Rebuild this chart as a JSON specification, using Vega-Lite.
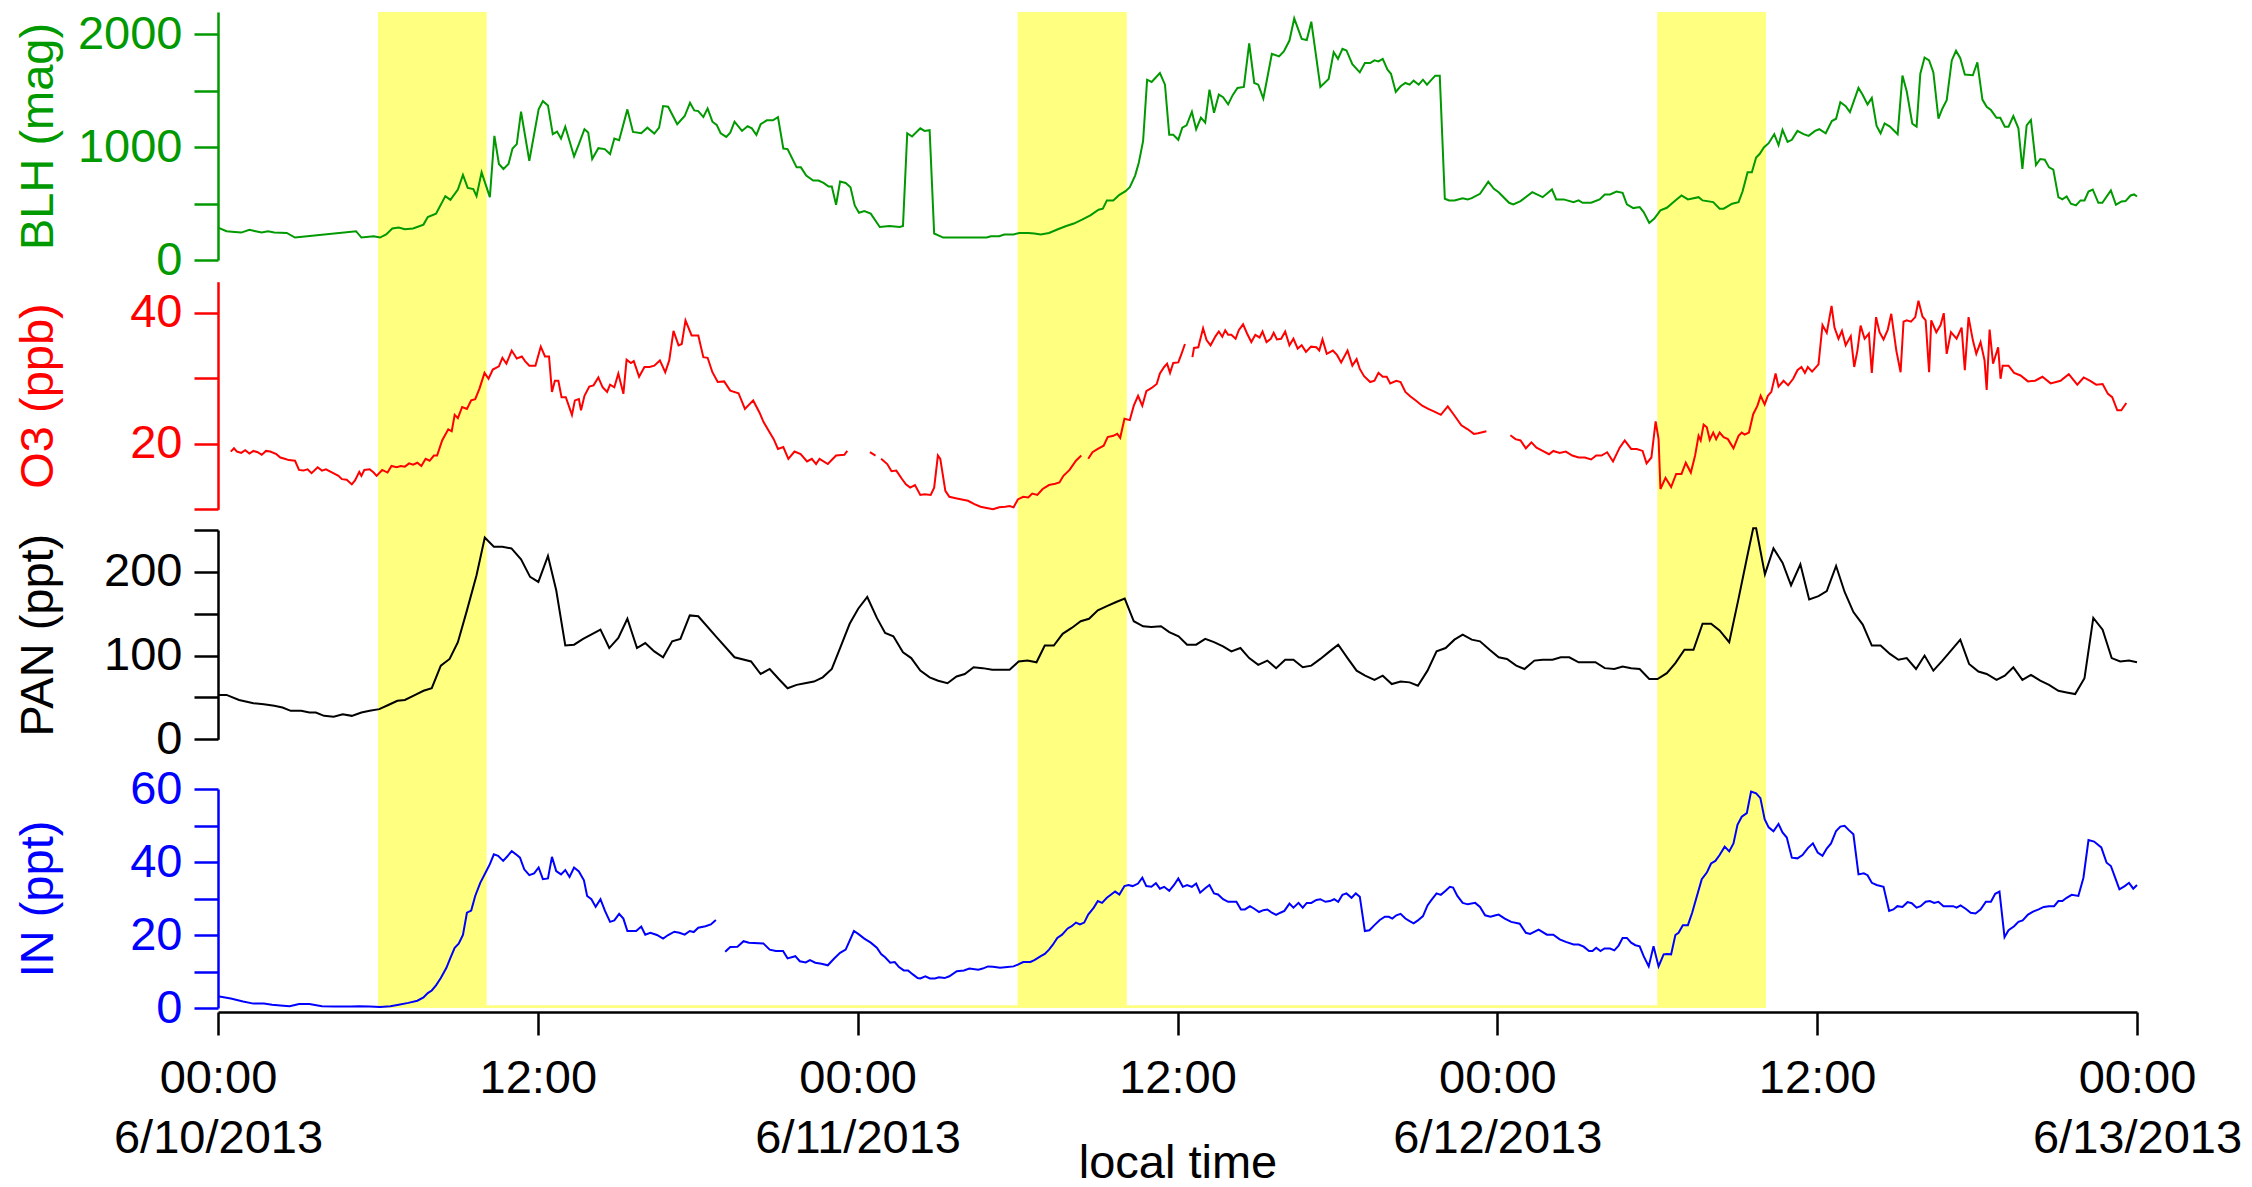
{
"$schema": "https://vega.github.io/schema/vega-lite/v6.json",
"width": 1919, "height": 996,
"autosize": {"type": "none"},
"padding": {"left": 218, "top": 12, "right": 115, "bottom": 179},
"config": {"view": {"stroke": null}, "font": "Liberation Sans",
  "axis": {"labelFont": "Liberation Sans", "titleFont": "Liberation Sans", "labelFontSize": 47, "titleFontSize": 47, "titleFontWeight": "normal", "grid": false, "tickWidth": 2.5, "domainWidth": 2.5, "labelOverlap": false, "labelFlush": false, "labelLimit": 0}},
"datasets": {
"bands": [{"h":6,"h2":10.08},{"h":30,"h2":34.1},{"h":54,"h2":58.08}],
"strip": [{"h":6,"h2":58.08}],
"blh": [{"h":0,"v":287},{"h":0.32,"v":255},{"h":0.63,"v":249},{"h":0.87,"v":243},{"h":1.18,"v":267},{"h":1.41,"v":255},{"h":1.64,"v":243},{"h":1.88,"v":255},{"h":2.11,"v":243},{"h":2.58,"v":240},{"h":2.89,"v":199},{"h":5.18,"v":255},{"h":5.38,"v":199},{"h":5.84,"v":211},{"h":6.08,"v":199},{"h":6.31,"v":226},{"h":6.54,"v":279},{"h":6.78,"v":287},{"h":7.01,"v":273},{"h":7.32,"v":279},{"h":7.71,"v":314},{"h":7.87,"v":381},{"h":8.18,"v":411},{"h":8.53,"v":566},{"h":8.72,"v":534},{"h":9.0,"v":625},{"h":9.19,"v":754},{"h":9.37,"v":639},{"h":9.58,"v":628},{"h":9.7,"v":566},{"h":9.89,"v":777},{"h":10.2,"v":557},{"h":10.37,"v":1100},{"h":10.54,"v":851},{"h":10.71,"v":807},{"h":10.9,"v":851},{"h":11.05,"v":988},{"h":11.21,"v":1027},{"h":11.37,"v":1314},{"h":11.68,"v":880},{"h":12.03,"v":1335},{"h":12.19,"v":1408},{"h":12.38,"v":1370},{"h":12.56,"v":1115},{"h":12.72,"v":1138},{"h":12.87,"v":1076},{"h":13.03,"v":1182},{"h":13.36,"v":918},{"h":13.54,"v":1027},{"h":13.75,"v":1159},{"h":13.89,"v":1129},{"h":14.04,"v":895},{"h":14.27,"v":991},{"h":14.51,"v":983},{"h":14.71,"v":939},{"h":14.87,"v":1076},{"h":15.05,"v":1062},{"h":15.36,"v":1335},{"h":15.57,"v":1135},{"h":15.88,"v":1123},{"h":16.11,"v":1173},{"h":16.37,"v":1120},{"h":16.55,"v":1173},{"h":16.7,"v":1364},{"h":16.89,"v":1358},{"h":17.23,"v":1203},{"h":17.51,"v":1276},{"h":17.71,"v":1393},{"h":17.87,"v":1326},{"h":18.02,"v":1320},{"h":18.21,"v":1267},{"h":18.37,"v":1343},{"h":18.55,"v":1226},{"h":18.71,"v":1197},{"h":18.86,"v":1123},{"h":19.07,"v":1091},{"h":19.22,"v":1129},{"h":19.38,"v":1226},{"h":19.66,"v":1144},{"h":19.87,"v":1185},{"h":20.03,"v":1167},{"h":20.2,"v":1109},{"h":20.36,"v":1203},{"h":20.59,"v":1238},{"h":20.82,"v":1238},{"h":21.01,"v":1267},{"h":21.21,"v":988},{"h":21.37,"v":983},{"h":21.71,"v":821},{"h":21.87,"v":821},{"h":22.07,"v":748},{"h":22.33,"v":704},{"h":22.53,"v":704},{"h":22.72,"v":683},{"h":22.91,"v":651},{"h":23.03,"v":651},{"h":23.19,"v":490},{"h":23.34,"v":695},{"h":23.55,"v":683},{"h":23.73,"v":645},{"h":23.89,"v":484},{"h":24.05,"v":419},{"h":24.25,"v":434},{"h":24.49,"v":411},{"h":24.83,"v":293},{"h":25.19,"v":302},{"h":25.58,"v":293},{"h":25.7,"v":302},{"h":25.86,"v":1123},{"h":26.04,"v":1094},{"h":26.35,"v":1167},{"h":26.51,"v":1144},{"h":26.7,"v":1150},{"h":26.87,"v":235},{"h":27.21,"v":199},{"h":28.84,"v":199},{"h":29.0,"v":211},{"h":29.31,"v":211},{"h":29.5,"v":226},{"h":29.85,"v":226},{"h":30.06,"v":240},{"h":30.4,"v":240},{"h":30.63,"v":235},{"h":30.87,"v":226},{"h":31.18,"v":240},{"h":31.49,"v":270},{"h":31.8,"v":299},{"h":32.11,"v":323},{"h":32.42,"v":358},{"h":32.73,"v":396},{"h":33.04,"v":446},{"h":33.2,"v":455},{"h":33.35,"v":528},{"h":33.59,"v":528},{"h":33.82,"v":578},{"h":34.05,"v":610},{"h":34.21,"v":645},{"h":34.41,"v":748},{"h":34.55,"v":865},{"h":34.71,"v":1056},{"h":34.86,"v":1598},{"h":35.03,"v":1578},{"h":35.34,"v":1657},{"h":35.53,"v":1554},{"h":35.69,"v":1109},{"h":35.84,"v":1109},{"h":36.03,"v":1065},{"h":36.18,"v":1173},{"h":36.34,"v":1194},{"h":36.54,"v":1314},{"h":36.7,"v":1159},{"h":36.88,"v":1261},{"h":37.04,"v":1217},{"h":37.2,"v":1510},{"h":37.37,"v":1305},{"h":37.55,"v":1467},{"h":37.71,"v":1443},{"h":37.9,"v":1379},{"h":38.07,"v":1461},{"h":38.25,"v":1525},{"h":38.49,"v":1534},{"h":38.69,"v":1921},{"h":38.88,"v":1569},{"h":39.03,"v":1554},{"h":39.22,"v":1431},{"h":39.34,"v":1578},{"h":39.54,"v":1827},{"h":39.81,"v":1804},{"h":39.99,"v":1848},{"h":40.2,"v":1945},{"h":40.38,"v":2141},{"h":40.66,"v":1959},{"h":40.85,"v":1950},{"h":41.02,"v":2112},{"h":41.36,"v":1534},{"h":41.67,"v":1604},{"h":41.86,"v":1842},{"h":42.02,"v":1783},{"h":42.19,"v":1871},{"h":42.34,"v":1857},{"h":42.56,"v":1736},{"h":42.84,"v":1663},{"h":43.03,"v":1745},{"h":43.23,"v":1745},{"h":43.39,"v":1769},{"h":43.54,"v":1760},{"h":43.7,"v":1783},{"h":43.88,"v":1686},{"h":44.01,"v":1651},{"h":44.19,"v":1490},{"h":44.37,"v":1540},{"h":44.55,"v":1569},{"h":44.71,"v":1554},{"h":44.86,"v":1590},{"h":45.05,"v":1554},{"h":45.21,"v":1598},{"h":45.36,"v":1554},{"h":45.67,"v":1634},{"h":45.84,"v":1634},{"h":46.03,"v":543},{"h":46.19,"v":528},{"h":46.39,"v":528},{"h":46.7,"v":548},{"h":46.89,"v":537},{"h":47.04,"v":548},{"h":47.35,"v":587},{"h":47.66,"v":695},{"h":47.87,"v":631},{"h":48.05,"v":600},{"h":48.44,"v":507},{"h":48.6,"v":493},{"h":48.87,"v":522},{"h":49.31,"v":601},{"h":49.7,"v":557},{"h":50.05,"v":625},{"h":50.21,"v":537},{"h":50.49,"v":537},{"h":50.86,"v":513},{"h":51.05,"v":528},{"h":51.2,"v":507},{"h":51.52,"v":507},{"h":51.84,"v":537},{"h":52.03,"v":581},{"h":52.23,"v":581},{"h":52.47,"v":607},{"h":52.7,"v":595},{"h":52.86,"v":493},{"h":53.1,"v":460},{"h":53.34,"v":469},{"h":53.49,"v":425},{"h":53.7,"v":328},{"h":53.89,"v":367},{"h":54.12,"v":440},{"h":54.36,"v":463},{"h":54.68,"v":528},{"h":54.91,"v":572},{"h":55.15,"v":537},{"h":55.55,"v":557},{"h":55.7,"v":528},{"h":56.1,"v":513},{"h":56.34,"v":455},{"h":56.49,"v":455},{"h":56.81,"v":499},{"h":57.05,"v":513},{"h":57.2,"v":607},{"h":57.39,"v":777},{"h":57.55,"v":777},{"h":57.71,"v":909},{"h":57.84,"v":939},{"h":58.0,"v":997},{"h":58.18,"v":1035},{"h":58.39,"v":1115},{"h":58.55,"v":1018},{"h":58.7,"v":1153},{"h":58.89,"v":1047},{"h":59.05,"v":1065},{"h":59.26,"v":1144},{"h":59.49,"v":1115},{"h":59.68,"v":1100},{"h":59.92,"v":1144},{"h":60.08,"v":1159},{"h":60.32,"v":1123},{"h":60.55,"v":1232},{"h":60.71,"v":1252},{"h":60.87,"v":1399},{"h":61.07,"v":1364},{"h":61.23,"v":1311},{"h":61.55,"v":1525},{"h":61.7,"v":1467},{"h":61.89,"v":1379},{"h":62.05,"v":1437},{"h":62.23,"v":1188},{"h":62.38,"v":1123},{"h":62.53,"v":1211},{"h":62.73,"v":1182},{"h":63.02,"v":1115},{"h":63.2,"v":1634},{"h":63.36,"v":1496},{"h":63.57,"v":1208},{"h":63.73,"v":1182},{"h":63.87,"v":1651},{"h":64.03,"v":1795},{"h":64.2,"v":1769},{"h":64.36,"v":1663},{"h":64.55,"v":1252},{"h":64.7,"v":1343},{"h":64.86,"v":1417},{"h":65.05,"v":1769},{"h":65.21,"v":1854},{"h":65.37,"v":1789},{"h":65.54,"v":1643},{"h":65.84,"v":1637},{"h":66.01,"v":1751},{"h":66.2,"v":1422},{"h":66.36,"v":1358},{"h":66.52,"v":1329},{"h":66.73,"v":1261},{"h":66.87,"v":1261},{"h":67.04,"v":1182},{"h":67.18,"v":1182},{"h":67.36,"v":1276},{"h":67.55,"v":1167},{"h":67.7,"v":807},{"h":67.86,"v":1194},{"h":68.02,"v":1241},{"h":68.21,"v":842},{"h":68.37,"v":895},{"h":68.54,"v":889},{"h":68.7,"v":821},{"h":68.86,"v":801},{"h":69.05,"v":557},{"h":69.2,"v":537},{"h":69.36,"v":563},{"h":69.52,"v":499},{"h":69.71,"v":484},{"h":69.88,"v":528},{"h":70.03,"v":528},{"h":70.18,"v":607},{"h":70.34,"v":625},{"h":70.55,"v":507},{"h":70.7,"v":507},{"h":71.02,"v":616},{"h":71.21,"v":490},{"h":71.42,"v":519},{"h":71.57,"v":522},{"h":71.76,"v":572},{"h":71.89,"v":581},{"h":72.0,"v":563}],
"o3": [{"s":1,"h":0.48,"v":18.8},{"s":1,"h":0.6,"v":19.3},{"s":1,"h":0.71,"v":18.8},{"s":1,"h":0.87,"v":18.6},{"s":1,"h":1.02,"v":19.0},{"s":1,"h":1.18,"v":18.5},{"s":1,"h":1.33,"v":18.9},{"s":1,"h":1.49,"v":18.7},{"s":1,"h":1.64,"v":18.3},{"s":1,"h":1.8,"v":18.9},{"s":1,"h":1.96,"v":18.8},{"s":1,"h":2.19,"v":18.4},{"s":1,"h":2.34,"v":17.9},{"s":1,"h":2.5,"v":17.7},{"s":1,"h":2.66,"v":17.5},{"s":1,"h":2.89,"v":17.4},{"s":1,"h":3.04,"v":16.0},{"s":1,"h":3.2,"v":15.9},{"s":1,"h":3.36,"v":16.1},{"s":1,"h":3.51,"v":15.5},{"s":1,"h":3.74,"v":16.4},{"s":1,"h":3.9,"v":15.9},{"s":1,"h":4.05,"v":16.1},{"s":1,"h":4.29,"v":15.6},{"s":1,"h":4.52,"v":15.1},{"s":1,"h":4.65,"v":14.6},{"s":1,"h":4.83,"v":14.5},{"s":1,"h":5.02,"v":13.8},{"s":1,"h":5.14,"v":14.4},{"s":1,"h":5.3,"v":15.7},{"s":1,"h":5.38,"v":15.1},{"s":1,"h":5.49,"v":16.0},{"s":1,"h":5.69,"v":16.1},{"s":1,"h":5.84,"v":15.6},{"s":1,"h":5.95,"v":15.1},{"s":1,"h":6.16,"v":16.0},{"s":1,"h":6.36,"v":15.6},{"s":1,"h":6.51,"v":16.6},{"s":1,"h":6.7,"v":16.4},{"s":1,"h":6.86,"v":16.6},{"s":1,"h":7.01,"v":16.5},{"s":1,"h":7.17,"v":17.0},{"s":1,"h":7.32,"v":16.8},{"s":1,"h":7.48,"v":17.1},{"s":1,"h":7.63,"v":16.6},{"s":1,"h":7.79,"v":17.7},{"s":1,"h":7.94,"v":17.4},{"s":1,"h":8.1,"v":18.2},{"s":1,"h":8.22,"v":18.2},{"s":1,"h":8.41,"v":20.5},{"s":1,"h":8.64,"v":22.2},{"s":1,"h":8.77,"v":21.9},{"s":1,"h":8.88,"v":24.4},{"s":1,"h":9.0,"v":23.9},{"s":1,"h":9.16,"v":25.6},{"s":1,"h":9.34,"v":25.3},{"s":1,"h":9.5,"v":26.6},{"s":1,"h":9.65,"v":26.8},{"s":1,"h":9.81,"v":28.4},{"s":1,"h":10.0,"v":30.8},{"s":1,"h":10.15,"v":29.9},{"s":1,"h":10.31,"v":31.3},{"s":1,"h":10.54,"v":31.8},{"s":1,"h":10.67,"v":33.1},{"s":1,"h":10.82,"v":32.2},{"s":1,"h":11.02,"v":34.2},{"s":1,"h":11.21,"v":33.0},{"s":1,"h":11.4,"v":33.3},{"s":1,"h":11.52,"v":32.6},{"s":1,"h":11.68,"v":31.9},{"s":1,"h":11.91,"v":31.9},{"s":1,"h":12.11,"v":34.8},{"s":1,"h":12.27,"v":33.3},{"s":1,"h":12.42,"v":33.3},{"s":1,"h":12.53,"v":27.9},{"s":1,"h":12.64,"v":29.6},{"s":1,"h":12.77,"v":29.6},{"s":1,"h":12.89,"v":27.1},{"s":1,"h":13.05,"v":27.1},{"s":1,"h":13.28,"v":24.4},{"s":1,"h":13.39,"v":26.6},{"s":1,"h":13.54,"v":26.8},{"s":1,"h":13.62,"v":25.1},{"s":1,"h":13.75,"v":27.3},{"s":1,"h":13.93,"v":28.7},{"s":1,"h":14.09,"v":28.9},{"s":1,"h":14.27,"v":30.1},{"s":1,"h":14.43,"v":28.6},{"s":1,"h":14.6,"v":27.9},{"s":1,"h":14.71,"v":29.0},{"s":1,"h":14.87,"v":28.6},{"s":1,"h":15.02,"v":30.7},{"s":1,"h":15.21,"v":27.6},{"s":1,"h":15.33,"v":32.8},{"s":1,"h":15.49,"v":32.3},{"s":1,"h":15.6,"v":32.6},{"s":1,"h":15.8,"v":30.2},{"s":1,"h":16.0,"v":31.7},{"s":1,"h":16.19,"v":31.7},{"s":1,"h":16.37,"v":31.9},{"s":1,"h":16.58,"v":32.7},{"s":1,"h":16.78,"v":30.9},{"s":1,"h":16.93,"v":32.7},{"s":1,"h":17.09,"v":37.2},{"s":1,"h":17.28,"v":35.0},{"s":1,"h":17.4,"v":35.2},{"s":1,"h":17.54,"v":38.8},{"s":1,"h":17.77,"v":36.5},{"s":1,"h":18.02,"v":36.5},{"s":1,"h":18.21,"v":33.2},{"s":1,"h":18.37,"v":33.1},{"s":1,"h":18.55,"v":30.9},{"s":1,"h":18.75,"v":29.4},{"s":1,"h":18.99,"v":29.5},{"s":1,"h":19.22,"v":28.1},{"s":1,"h":19.53,"v":27.7},{"s":1,"h":19.77,"v":25.3},{"s":1,"h":20.08,"v":26.6},{"s":1,"h":20.31,"v":24.8},{"s":1,"h":20.47,"v":23.3},{"s":1,"h":20.7,"v":21.7},{"s":1,"h":20.85,"v":20.7},{"s":1,"h":21.01,"v":19.2},{"s":1,"h":21.21,"v":19.5},{"s":1,"h":21.4,"v":17.7},{"s":1,"h":21.63,"v":18.8},{"s":1,"h":21.86,"v":18.4},{"s":1,"h":22.1,"v":17.3},{"s":1,"h":22.28,"v":17.7},{"s":1,"h":22.44,"v":16.9},{"s":1,"h":22.57,"v":17.7},{"s":1,"h":22.88,"v":16.9},{"s":1,"h":23.19,"v":18.2},{"s":1,"h":23.5,"v":18.3},{"s":1,"h":23.61,"v":18.9},
{"s":2,"h":24.46,"v":18.7},{"s":2,"h":24.67,"v":18.2},
{"s":3,"h":24.88,"v":17.7},{"s":3,"h":25.11,"v":16.9},{"s":3,"h":25.27,"v":15.8},{"s":3,"h":25.45,"v":15.9},{"s":3,"h":25.65,"v":14.7},{"s":3,"h":25.81,"v":13.8},{"s":3,"h":25.97,"v":13.3},{"s":3,"h":26.15,"v":13.7},{"s":3,"h":26.35,"v":12.2},{"s":3,"h":26.51,"v":12.3},{"s":3,"h":26.74,"v":12.2},{"s":3,"h":26.87,"v":13.3},{"s":3,"h":27.01,"v":18.2},{"s":3,"h":27.1,"v":17.7},{"s":3,"h":27.29,"v":12.8},{"s":3,"h":27.44,"v":11.9},{"s":3,"h":27.68,"v":11.7},{"s":3,"h":27.91,"v":11.5},{"s":3,"h":28.14,"v":11.3},{"s":3,"h":28.38,"v":10.8},{"s":3,"h":28.61,"v":10.4},{"s":3,"h":28.84,"v":10.2},{"s":3,"h":29.08,"v":10.0},{"s":3,"h":29.31,"v":10.3},{"s":3,"h":29.54,"v":10.4},{"s":3,"h":29.7,"v":10.5},{"s":3,"h":29.85,"v":10.3},{"s":3,"h":30.01,"v":11.5},{"s":3,"h":30.21,"v":11.9},{"s":3,"h":30.4,"v":11.8},{"s":3,"h":30.55,"v":12.4},{"s":3,"h":30.74,"v":12.2},{"s":3,"h":30.94,"v":13.1},{"s":3,"h":31.18,"v":13.7},{"s":3,"h":31.41,"v":13.9},{"s":3,"h":31.57,"v":14.1},{"s":3,"h":31.72,"v":15.1},{"s":3,"h":31.95,"v":16.0},{"s":3,"h":32.19,"v":17.4},{"s":3,"h":32.39,"v":18.2},
{"s":4,"h":32.65,"v":17.7},{"s":4,"h":32.81,"v":18.7},{"s":4,"h":33.01,"v":19.2},{"s":4,"h":33.23,"v":19.7},{"s":4,"h":33.38,"v":21.0},{"s":4,"h":33.59,"v":21.2},{"s":4,"h":33.74,"v":21.5},{"s":4,"h":33.85,"v":20.9},{"s":4,"h":34.01,"v":23.8},{"s":4,"h":34.21,"v":23.6},{"s":4,"h":34.36,"v":25.8},{"s":4,"h":34.52,"v":27.3},{"s":4,"h":34.68,"v":25.8},{"s":4,"h":34.83,"v":28.0},{"s":4,"h":35.03,"v":28.5},{"s":4,"h":35.22,"v":29.1},{"s":4,"h":35.34,"v":30.7},{"s":4,"h":35.5,"v":31.7},{"s":4,"h":35.61,"v":32.2},{"s":4,"h":35.72,"v":30.8},{"s":4,"h":35.84,"v":32.3},{"s":4,"h":36.03,"v":32.4},{"s":4,"h":36.15,"v":33.7},{"s":4,"h":36.28,"v":35.2},
{"s":5,"h":36.56,"v":33.2},{"s":5,"h":36.62,"v":34.6},{"s":5,"h":36.78,"v":34.7},{"s":5,"h":36.96,"v":37.6},{"s":5,"h":37.09,"v":35.8},{"s":5,"h":37.24,"v":35.0},{"s":5,"h":37.43,"v":36.4},{"s":5,"h":37.55,"v":37.1},{"s":5,"h":37.68,"v":36.3},{"s":5,"h":37.79,"v":37.3},{"s":5,"h":37.9,"v":36.6},{"s":5,"h":38.02,"v":36.6},{"s":5,"h":38.18,"v":36.0},{"s":5,"h":38.3,"v":37.3},{"s":5,"h":38.46,"v":38.2},{"s":5,"h":38.61,"v":36.8},{"s":5,"h":38.77,"v":35.5},{"s":5,"h":38.92,"v":36.6},{"s":5,"h":39.08,"v":36.2},{"s":5,"h":39.19,"v":37.1},{"s":5,"h":39.34,"v":35.5},{"s":5,"h":39.5,"v":36.0},{"s":5,"h":39.61,"v":36.9},{"s":5,"h":39.73,"v":35.9},{"s":5,"h":39.89,"v":36.0},{"s":5,"h":40.04,"v":37.1},{"s":5,"h":40.2,"v":35.0},{"s":5,"h":40.35,"v":36.0},{"s":5,"h":40.51,"v":34.5},{"s":5,"h":40.66,"v":35.0},{"s":5,"h":40.82,"v":34.0},{"s":5,"h":41.01,"v":34.8},{"s":5,"h":41.21,"v":34.7},{"s":5,"h":41.32,"v":34.2},{"s":5,"h":41.44,"v":35.9},{"s":5,"h":41.6,"v":33.7},{"s":5,"h":41.83,"v":34.2},{"s":5,"h":41.99,"v":33.5},{"s":5,"h":42.14,"v":32.4},{"s":5,"h":42.38,"v":34.2},{"s":5,"h":42.56,"v":31.9},{"s":5,"h":42.72,"v":32.9},{"s":5,"h":42.84,"v":31.4},{"s":5,"h":43.0,"v":30.3},{"s":5,"h":43.23,"v":29.4},{"s":5,"h":43.39,"v":29.6},{"s":5,"h":43.54,"v":30.8},{"s":5,"h":43.7,"v":30.2},{"s":5,"h":43.85,"v":30.2},{"s":5,"h":43.98,"v":29.2},{"s":5,"h":44.21,"v":29.6},{"s":5,"h":44.37,"v":29.4},{"s":5,"h":44.55,"v":27.9},{"s":5,"h":44.74,"v":27.2},{"s":5,"h":44.94,"v":26.6},{"s":5,"h":45.18,"v":25.8},{"s":5,"h":45.41,"v":25.3},{"s":5,"h":45.64,"v":24.9},{"s":5,"h":45.88,"v":24.4},{"s":5,"h":46.14,"v":25.7},{"s":5,"h":46.39,"v":24.3},{"s":5,"h":46.65,"v":22.8},{"s":5,"h":46.89,"v":22.2},{"s":5,"h":47.12,"v":21.5},{"s":5,"h":47.28,"v":21.6},{"s":5,"h":47.59,"v":21.9},
{"s":6,"h":48.49,"v":21.3},{"s":6,"h":48.68,"v":20.7},{"s":6,"h":48.87,"v":20.5},{"s":6,"h":49.07,"v":19.3},{"s":6,"h":49.28,"v":20.2},{"s":6,"h":49.47,"v":19.4},{"s":6,"h":49.7,"v":18.9},{"s":6,"h":49.94,"v":18.4},{"s":6,"h":50.1,"v":18.9},{"s":6,"h":50.34,"v":18.6},{"s":6,"h":50.57,"v":18.8},{"s":6,"h":50.81,"v":18.2},{"s":6,"h":51.05,"v":17.9},{"s":6,"h":51.28,"v":17.9},{"s":6,"h":51.52,"v":17.6},{"s":6,"h":51.71,"v":18.2},{"s":6,"h":51.91,"v":18.2},{"s":6,"h":52.12,"v":18.7},{"s":6,"h":52.34,"v":17.3},{"s":6,"h":52.59,"v":19.4},{"s":6,"h":52.78,"v":20.5},{"s":6,"h":53.02,"v":19.2},{"s":6,"h":53.23,"v":19.2},{"s":6,"h":53.45,"v":18.9},{"s":6,"h":53.6,"v":17.0},{"s":6,"h":53.78,"v":17.9},{"s":6,"h":53.94,"v":23.4},{"s":6,"h":54.05,"v":20.7},{"s":6,"h":54.12,"v":13.1},{"s":6,"h":54.31,"v":14.8},{"s":6,"h":54.52,"v":13.4},{"s":6,"h":54.71,"v":15.4},{"s":6,"h":54.91,"v":15.4},{"s":6,"h":55.07,"v":17.1},{"s":6,"h":55.26,"v":15.6},{"s":6,"h":55.42,"v":18.2},{"s":6,"h":55.55,"v":21.2},{"s":6,"h":55.63,"v":20.5},{"s":6,"h":55.74,"v":22.9},{"s":6,"h":55.86,"v":22.5},{"s":6,"h":55.97,"v":20.6},{"s":6,"h":56.1,"v":21.7},{"s":6,"h":56.21,"v":20.7},{"s":6,"h":56.34,"v":21.7},{"s":6,"h":56.49,"v":21.0},{"s":6,"h":56.65,"v":20.7},{"s":6,"h":56.86,"v":19.3},{"s":6,"h":57.05,"v":21.2},{"s":6,"h":57.17,"v":21.7},{"s":6,"h":57.28,"v":21.4},{"s":6,"h":57.44,"v":21.7},{"s":6,"h":57.6,"v":24.5},{"s":6,"h":57.76,"v":25.8},{"s":6,"h":57.88,"v":27.3},{"s":6,"h":58.03,"v":26.0},{"s":6,"h":58.15,"v":27.3},{"s":6,"h":58.28,"v":27.9},{"s":6,"h":58.44,"v":30.7},{"s":6,"h":58.55,"v":28.7},{"s":6,"h":58.74,"v":29.6},{"s":6,"h":58.91,"v":28.9},{"s":6,"h":59.1,"v":29.9},{"s":6,"h":59.26,"v":31.2},{"s":6,"h":59.41,"v":31.7},{"s":6,"h":59.54,"v":30.8},{"s":6,"h":59.65,"v":31.7},{"s":6,"h":59.81,"v":31.0},{"s":6,"h":60.05,"v":32.1},{"s":6,"h":60.2,"v":38.1},{"s":6,"h":60.36,"v":36.9},{"s":6,"h":60.54,"v":41.0},{"s":6,"h":60.65,"v":37.7},{"s":6,"h":60.8,"v":36.0},{"s":6,"h":60.93,"v":37.2},{"s":6,"h":61.07,"v":35.0},{"s":6,"h":61.26,"v":36.4},{"s":6,"h":61.39,"v":31.7},{"s":6,"h":61.51,"v":34.2},{"s":6,"h":61.63,"v":38.0},{"s":6,"h":61.78,"v":36.0},{"s":6,"h":61.94,"v":36.8},{"s":6,"h":62.05,"v":30.8},{"s":6,"h":62.21,"v":39.3},{"s":6,"h":62.34,"v":37.0},{"s":6,"h":62.49,"v":35.9},{"s":6,"h":62.65,"v":37.4},{"s":6,"h":62.78,"v":39.8},{"s":6,"h":62.97,"v":34.2},{"s":6,"h":63.13,"v":30.9},{"s":6,"h":63.24,"v":38.6},{"s":6,"h":63.36,"v":38.8},{"s":6,"h":63.52,"v":38.6},{"s":6,"h":63.68,"v":39.3},{"s":6,"h":63.8,"v":41.8},{"s":6,"h":63.95,"v":39.4},{"s":6,"h":64.07,"v":38.8},{"s":6,"h":64.2,"v":30.9},{"s":6,"h":64.28,"v":38.8},{"s":6,"h":64.47,"v":37.0},{"s":6,"h":64.63,"v":38.1},{"s":6,"h":64.75,"v":39.9},{"s":6,"h":64.86,"v":33.7},{"s":6,"h":65.02,"v":37.0},{"s":6,"h":65.23,"v":36.0},{"s":6,"h":65.42,"v":37.7},{"s":6,"h":65.54,"v":31.2},{"s":6,"h":65.68,"v":39.3},{"s":6,"h":65.84,"v":35.8},{"s":6,"h":65.97,"v":33.7},{"s":6,"h":66.13,"v":35.5},{"s":6,"h":66.28,"v":32.7},{"s":6,"h":66.36,"v":28.2},{"s":6,"h":66.47,"v":37.4},{"s":6,"h":66.6,"v":32.2},{"s":6,"h":66.79,"v":34.7},{"s":6,"h":66.88,"v":29.9},{"s":6,"h":66.96,"v":31.9},{"s":6,"h":67.18,"v":31.9},{"s":6,"h":67.39,"v":30.8},{"s":6,"h":67.63,"v":30.4},{"s":6,"h":67.91,"v":29.5},{"s":6,"h":68.18,"v":29.6},{"s":6,"h":68.45,"v":30.2},{"s":6,"h":68.76,"v":29.2},{"s":6,"h":69.13,"v":29.6},{"s":6,"h":69.44,"v":30.6},{"s":6,"h":69.76,"v":29.0},{"s":6,"h":70.0,"v":30.1},{"s":6,"h":70.23,"v":29.6},{"s":6,"h":70.47,"v":29.0},{"s":6,"h":70.71,"v":29.1},{"s":6,"h":70.91,"v":27.6},{"s":6,"h":71.07,"v":27.1},{"s":6,"h":71.26,"v":25.1},{"s":6,"h":71.41,"v":25.1},{"s":6,"h":71.6,"v":26.2}],
"pan": [{"h":0,"v":53},{"h":0.32,"v":53},{"h":0.79,"v":47},{"h":1.33,"v":43},{"h":1.72,"v":42},{"h":2.11,"v":40},{"h":2.42,"v":38},{"h":2.73,"v":34},{"h":3.12,"v":34},{"h":3.43,"v":32},{"h":3.67,"v":32},{"h":3.98,"v":28},{"h":4.34,"v":27},{"h":4.68,"v":30},{"h":5.02,"v":28},{"h":5.38,"v":32},{"h":5.69,"v":34},{"h":6.05,"v":36},{"h":6.39,"v":41},{"h":6.73,"v":46},{"h":7.01,"v":47},{"h":7.4,"v":53},{"h":7.71,"v":58},{"h":8.02,"v":61},{"h":8.36,"v":88},{"h":8.69,"v":96},{"h":9.0,"v":116},{"h":9.34,"v":154},{"h":9.7,"v":196},{"h":10.01,"v":241},{"h":10.35,"v":230},{"h":10.67,"v":230},{"h":11.01,"v":228},{"h":11.37,"v":215},{"h":11.71,"v":194},{"h":12.02,"v":188},{"h":12.38,"v":219},{"h":12.69,"v":178},{"h":13.03,"v":112},{"h":13.36,"v":113},{"h":13.7,"v":120},{"h":14.35,"v":131},{"h":14.68,"v":109},{"h":15.02,"v":121},{"h":15.36,"v":144},{"h":15.72,"v":109},{"h":16.03,"v":115},{"h":16.37,"v":105},{"h":16.7,"v":98},{"h":17.04,"v":117},{"h":17.35,"v":120},{"h":17.7,"v":148},{"h":18.02,"v":147},{"h":18.68,"v":123},{"h":19.38,"v":98},{"h":20.0,"v":93},{"h":20.36,"v":78},{"h":20.7,"v":84},{"h":21.04,"v":72},{"h":21.37,"v":61},{"h":21.71,"v":65},{"h":22.02,"v":67},{"h":22.36,"v":69},{"h":22.69,"v":74},{"h":23.03,"v":84},{"h":23.34,"v":109},{"h":23.7,"v":138},{"h":24.02,"v":156},{"h":24.36,"v":170},{"h":24.72,"v":145},{"h":25.03,"v":127},{"h":25.34,"v":123},{"h":25.7,"v":104},{"h":26.01,"v":97},{"h":26.35,"v":82},{"h":26.7,"v":74},{"h":27.02,"v":70},{"h":27.37,"v":67},{"h":27.71,"v":75},{"h":28.02,"v":78},{"h":28.35,"v":86},{"h":28.69,"v":85},{"h":29.05,"v":83},{"h":29.36,"v":83},{"h":29.7,"v":83},{"h":30.04,"v":93},{"h":30.37,"v":94},{"h":30.71,"v":92},{"h":31.02,"v":112},{"h":31.36,"v":112},{"h":31.69,"v":126},{"h":32.03,"v":133},{"h":32.37,"v":141},{"h":32.68,"v":144},{"h":33.01,"v":154},{"h":33.35,"v":159},{"h":33.7,"v":164},{"h":34.02,"v":168},{"h":34.36,"v":141},{"h":34.71,"v":135},{"h":35.02,"v":134},{"h":35.38,"v":135},{"h":35.69,"v":128},{"h":36.04,"v":123},{"h":36.36,"v":113},{"h":36.7,"v":113},{"h":37.04,"v":120},{"h":37.37,"v":116},{"h":37.71,"v":111},{"h":38.02,"v":105},{"h":38.36,"v":109},{"h":38.69,"v":97},{"h":39.03,"v":89},{"h":39.37,"v":94},{"h":39.7,"v":85},{"h":40.04,"v":95},{"h":40.35,"v":95},{"h":40.7,"v":86},{"h":41.02,"v":88},{"h":41.36,"v":96},{"h":41.71,"v":105},{"h":42.03,"v":113},{"h":42.38,"v":97},{"h":42.72,"v":82},{"h":43.04,"v":76},{"h":43.39,"v":71},{"h":43.7,"v":76},{"h":44.04,"v":66},{"h":44.37,"v":69},{"h":44.71,"v":68},{"h":45.02,"v":64},{"h":45.38,"v":82},{"h":45.72,"v":105},{"h":46.06,"v":109},{"h":46.39,"v":119},{"h":46.7,"v":125},{"h":47.04,"v":119},{"h":47.35,"v":117},{"h":47.71,"v":107},{"h":48.05,"v":98},{"h":48.36,"v":96},{"h":48.71,"v":88},{"h":49.02,"v":84},{"h":49.39,"v":94},{"h":49.7,"v":95},{"h":50.07,"v":95},{"h":50.38,"v":98},{"h":50.7,"v":98},{"h":51.05,"v":92},{"h":51.68,"v":92},{"h":52.03,"v":85},{"h":52.39,"v":84},{"h":52.7,"v":87},{"h":53.02,"v":85},{"h":53.34,"v":84},{"h":53.7,"v":72},{"h":54.01,"v":72},{"h":54.36,"v":79},{"h":54.68,"v":91},{"h":55.02,"v":107},{"h":55.36,"v":107},{"h":55.7,"v":138},{"h":56.02,"v":138},{"h":56.34,"v":130},{"h":56.7,"v":116},{"h":57.05,"v":168},{"h":57.36,"v":216},{"h":57.6,"v":252},{"h":57.71,"v":252},{"h":58.04,"v":197},{"h":58.36,"v":228},{"h":58.7,"v":211},{"h":59.02,"v":184},{"h":59.37,"v":209},{"h":59.7,"v":167},{"h":60.05,"v":171},{"h":60.36,"v":177},{"h":60.71,"v":207},{"h":61.03,"v":176},{"h":61.36,"v":152},{"h":61.71,"v":137},{"h":62.05,"v":112},{"h":62.38,"v":112},{"h":62.73,"v":102},{"h":63.05,"v":95},{"h":63.36,"v":97},{"h":63.71,"v":84},{"h":64.03,"v":100},{"h":64.36,"v":82},{"h":64.7,"v":94},{"h":65.02,"v":106},{"h":65.37,"v":119},{"h":65.7,"v":90},{"h":66.05,"v":81},{"h":66.36,"v":78},{"h":66.73,"v":71},{"h":67.04,"v":76},{"h":67.36,"v":86},{"h":67.7,"v":71},{"h":68.02,"v":77},{"h":68.37,"v":70},{"h":68.7,"v":65},{"h":69.05,"v":58},{"h":69.36,"v":56},{"h":69.68,"v":54},{"h":70.03,"v":73},{"h":70.36,"v":145},{"h":70.71,"v":131},{"h":71.05,"v":97},{"h":71.37,"v":93},{"h":71.7,"v":94},{"h":72.0,"v":92}],
"in": [{"s":1,"h":0,"v":3.2},{"s":1,"h":0.48,"v":2.6},{"s":1,"h":0.94,"v":1.8},{"s":1,"h":1.33,"v":1.2},{"s":1,"h":1.72,"v":1.2},{"s":1,"h":2.03,"v":0.9},{"s":1,"h":2.34,"v":0.7},{"s":1,"h":2.69,"v":0.5},{"s":1,"h":3.04,"v":1.1},{"s":1,"h":3.43,"v":1.1},{"s":1,"h":3.9,"v":0.5},{"s":1,"h":4.37,"v":0.4},{"s":1,"h":4.99,"v":0.4},{"s":1,"h":5.3,"v":0.5},{"s":1,"h":5.69,"v":0.4},{"s":1,"h":6.08,"v":0.3},{"s":1,"h":6.47,"v":0.5},{"s":1,"h":6.78,"v":0.9},{"s":1,"h":7.14,"v":1.4},{"s":1,"h":7.48,"v":2.0},{"s":1,"h":7.71,"v":2.9},{"s":1,"h":7.87,"v":4.1},{"s":1,"h":8.02,"v":4.8},{"s":1,"h":8.18,"v":6.2},{"s":1,"h":8.36,"v":8.2},{"s":1,"h":8.57,"v":11.0},{"s":1,"h":8.72,"v":13.7},{"s":1,"h":8.88,"v":16.5},{"s":1,"h":9.03,"v":17.6},{"s":1,"h":9.19,"v":20.0},{"s":1,"h":9.34,"v":26.1},{"s":1,"h":9.5,"v":26.7},{"s":1,"h":9.65,"v":30.7},{"s":1,"h":9.84,"v":34.3},{"s":1,"h":10.04,"v":37.1},{"s":1,"h":10.2,"v":39.4},{"s":1,"h":10.35,"v":42.1},{"s":1,"h":10.51,"v":41.7},{"s":1,"h":10.7,"v":40.3},{"s":1,"h":10.85,"v":41.5},{"s":1,"h":11.02,"v":43.0},{"s":1,"h":11.18,"v":42.1},{"s":1,"h":11.33,"v":41.2},{"s":1,"h":11.49,"v":38.0},{"s":1,"h":11.68,"v":36.4},{"s":1,"h":11.86,"v":36.9},{"s":1,"h":12.03,"v":38.5},{"s":1,"h":12.19,"v":35.3},{"s":1,"h":12.38,"v":35.5},{"s":1,"h":12.53,"v":41.4},{"s":1,"h":12.69,"v":37.5},{"s":1,"h":12.87,"v":36.6},{"s":1,"h":13.03,"v":37.8},{"s":1,"h":13.19,"v":35.9},{"s":1,"h":13.36,"v":38.5},{"s":1,"h":13.54,"v":37.4},{"s":1,"h":13.73,"v":35.0},{"s":1,"h":13.85,"v":30.7},{"s":1,"h":14.01,"v":29.8},{"s":1,"h":14.17,"v":27.7},{"s":1,"h":14.35,"v":29.8},{"s":1,"h":14.52,"v":26.6},{"s":1,"h":14.71,"v":23.6},{"s":1,"h":14.87,"v":24.0},{"s":1,"h":15.05,"v":25.8},{"s":1,"h":15.21,"v":24.5},{"s":1,"h":15.36,"v":21.1},{"s":1,"h":15.69,"v":21.1},{"s":1,"h":15.88,"v":22.3},{"s":1,"h":16.03,"v":20.1},{"s":1,"h":16.22,"v":20.6},{"s":1,"h":16.47,"v":20.0},{"s":1,"h":16.7,"v":19.0},{"s":1,"h":16.89,"v":20.0},{"s":1,"h":17.12,"v":20.9},{"s":1,"h":17.31,"v":20.6},{"s":1,"h":17.51,"v":20.1},{"s":1,"h":17.7,"v":21.1},{"s":1,"h":17.85,"v":20.8},{"s":1,"h":18.02,"v":22.0},{"s":1,"h":18.29,"v":22.4},{"s":1,"h":18.49,"v":22.9},{"s":1,"h":18.68,"v":24.1},
{"s":2,"h":19.03,"v":15.4},{"s":2,"h":19.22,"v":16.7},{"s":2,"h":19.49,"v":16.8},{"s":2,"h":19.72,"v":18.3},{"s":2,"h":19.92,"v":17.9},{"s":2,"h":20.46,"v":17.7},{"s":2,"h":20.7,"v":16.0},{"s":2,"h":20.93,"v":15.6},{"s":2,"h":21.2,"v":15.6},{"s":2,"h":21.37,"v":13.6},{"s":2,"h":21.66,"v":14.2},{"s":2,"h":21.83,"v":12.8},{"s":2,"h":22.05,"v":12.5},{"s":2,"h":22.21,"v":13.1},{"s":2,"h":22.41,"v":12.4},{"s":2,"h":22.64,"v":12.1},{"s":2,"h":22.88,"v":11.7},{"s":2,"h":23.11,"v":13.5},{"s":2,"h":23.34,"v":15.1},{"s":2,"h":23.55,"v":16.0},{"s":2,"h":23.86,"v":21.1},{"s":2,"h":24.02,"v":20.3},{"s":2,"h":24.25,"v":19.0},{"s":2,"h":24.49,"v":17.9},{"s":2,"h":24.72,"v":16.5},{"s":2,"h":24.88,"v":14.8},{"s":2,"h":25.03,"v":13.9},{"s":2,"h":25.22,"v":12.4},{"s":2,"h":25.39,"v":12.6},{"s":2,"h":25.55,"v":11.2},{"s":2,"h":25.73,"v":10.3},{"s":2,"h":25.89,"v":10.3},{"s":2,"h":26.07,"v":9.2},{"s":2,"h":26.25,"v":8.2},{"s":2,"h":26.35,"v":8.1},{"s":2,"h":26.54,"v":8.7},{"s":2,"h":26.71,"v":8.1},{"s":2,"h":26.9,"v":8.1},{"s":2,"h":27.05,"v":8.4},{"s":2,"h":27.26,"v":8.2},{"s":2,"h":27.44,"v":8.7},{"s":2,"h":27.72,"v":10.1},{"s":2,"h":27.99,"v":10.3},{"s":2,"h":28.19,"v":10.8},{"s":2,"h":28.53,"v":10.5},{"s":2,"h":28.69,"v":10.8},{"s":2,"h":28.89,"v":11.4},{"s":2,"h":29.08,"v":11.3},{"s":2,"h":29.34,"v":11.0},{"s":2,"h":29.62,"v":11.2},{"s":2,"h":29.85,"v":11.4},{"s":2,"h":30.01,"v":11.9},{"s":2,"h":30.21,"v":12.6},{"s":2,"h":30.48,"v":12.6},{"s":2,"h":30.63,"v":13.1},{"s":2,"h":30.87,"v":14.2},{"s":2,"h":31.02,"v":14.8},{"s":2,"h":31.18,"v":16.0},{"s":2,"h":31.33,"v":17.4},{"s":2,"h":31.49,"v":19.2},{"s":2,"h":31.67,"v":20.1},{"s":2,"h":31.88,"v":21.8},{"s":2,"h":32.03,"v":22.4},{"s":2,"h":32.19,"v":23.4},{"s":2,"h":32.34,"v":22.9},{"s":2,"h":32.5,"v":23.4},{"s":2,"h":32.65,"v":25.6},{"s":2,"h":32.86,"v":27.5},{"s":2,"h":33.01,"v":29.3},{"s":2,"h":33.17,"v":28.8},{"s":2,"h":33.35,"v":30.2},{"s":2,"h":33.51,"v":31.1},{"s":2,"h":33.66,"v":31.9},{"s":2,"h":33.82,"v":31.1},{"s":2,"h":34.01,"v":33.4},{"s":2,"h":34.16,"v":33.7},{"s":2,"h":34.32,"v":33.4},{"s":2,"h":34.52,"v":34.1},{"s":2,"h":34.68,"v":35.7},{"s":2,"h":34.83,"v":33.4},{"s":2,"h":35.02,"v":33.2},{"s":2,"h":35.19,"v":34.2},{"s":2,"h":35.34,"v":32.7},{"s":2,"h":35.5,"v":33.2},{"s":2,"h":35.69,"v":32.1},{"s":2,"h":35.87,"v":33.7},{"s":2,"h":36.03,"v":35.5},{"s":2,"h":36.2,"v":33.2},{"s":2,"h":36.36,"v":33.7},{"s":2,"h":36.54,"v":33.2},{"s":2,"h":36.7,"v":34.1},{"s":2,"h":36.85,"v":31.6},{"s":2,"h":37.04,"v":32.8},{"s":2,"h":37.2,"v":33.7},{"s":2,"h":37.37,"v":31.4},{"s":2,"h":37.52,"v":31.1},{"s":2,"h":37.71,"v":29.8},{"s":2,"h":37.9,"v":29.1},{"s":2,"h":38.21,"v":29.1},{"s":2,"h":38.38,"v":27.0},{"s":2,"h":38.53,"v":27.0},{"s":2,"h":38.72,"v":27.9},{"s":2,"h":38.88,"v":27.2},{"s":2,"h":39.06,"v":26.3},{"s":2,"h":39.22,"v":26.8},{"s":2,"h":39.37,"v":27.0},{"s":2,"h":39.54,"v":26.1},{"s":2,"h":39.7,"v":25.5},{"s":2,"h":39.86,"v":26.1},{"s":2,"h":40.01,"v":26.6},{"s":2,"h":40.2,"v":28.6},{"s":2,"h":40.35,"v":27.5},{"s":2,"h":40.54,"v":28.8},{"s":2,"h":40.7,"v":27.5},{"s":2,"h":40.85,"v":28.8},{"s":2,"h":41.02,"v":28.8},{"s":2,"h":41.21,"v":29.6},{"s":2,"h":41.36,"v":29.8},{"s":2,"h":41.55,"v":29.1},{"s":2,"h":41.72,"v":29.3},{"s":2,"h":41.88,"v":29.8},{"s":2,"h":42.03,"v":29.1},{"s":2,"h":42.19,"v":31.0},{"s":2,"h":42.34,"v":31.4},{"s":2,"h":42.53,"v":30.2},{"s":2,"h":42.69,"v":31.4},{"s":2,"h":42.84,"v":30.5},{"s":2,"h":43.03,"v":21.1},{"s":2,"h":43.2,"v":21.3},{"s":2,"h":43.39,"v":22.7},{"s":2,"h":43.59,"v":24.1},{"s":2,"h":43.78,"v":25.0},{"s":2,"h":43.93,"v":25.0},{"s":2,"h":44.06,"v":24.5},{"s":2,"h":44.21,"v":25.4},{"s":2,"h":44.37,"v":25.8},{"s":2,"h":44.55,"v":24.5},{"s":2,"h":44.71,"v":23.8},{"s":2,"h":44.86,"v":23.2},{"s":2,"h":45.02,"v":24.0},{"s":2,"h":45.21,"v":25.2},{"s":2,"h":45.38,"v":28.1},{"s":2,"h":45.53,"v":29.6},{"s":2,"h":45.72,"v":31.4},{"s":2,"h":45.88,"v":31.0},{"s":2,"h":46.06,"v":32.1},{"s":2,"h":46.22,"v":33.2},{"s":2,"h":46.34,"v":33.0},{"s":2,"h":46.5,"v":30.7},{"s":2,"h":46.7,"v":28.8},{"s":2,"h":46.89,"v":28.4},{"s":2,"h":47.17,"v":28.8},{"s":2,"h":47.35,"v":27.7},{"s":2,"h":47.54,"v":25.4},{"s":2,"h":47.74,"v":25.0},{"s":2,"h":47.94,"v":25.4},{"s":2,"h":48.05,"v":25.6},{"s":2,"h":48.28,"v":24.5},{"s":2,"h":48.52,"v":23.6},{"s":2,"h":48.84,"v":23.1},{"s":2,"h":49.07,"v":20.6},{"s":2,"h":49.23,"v":20.3},{"s":2,"h":49.55,"v":21.5},{"s":2,"h":49.86,"v":20.1},{"s":2,"h":50.1,"v":20.1},{"s":2,"h":50.34,"v":18.8},{"s":2,"h":50.57,"v":18.1},{"s":2,"h":50.86,"v":17.4},{"s":2,"h":51.05,"v":17.4},{"s":2,"h":51.24,"v":16.8},{"s":2,"h":51.44,"v":15.6},{"s":2,"h":51.57,"v":15.6},{"s":2,"h":51.71,"v":16.5},{"s":2,"h":51.87,"v":15.6},{"s":2,"h":52.02,"v":16.3},{"s":2,"h":52.23,"v":16.3},{"s":2,"h":52.39,"v":15.8},{"s":2,"h":52.55,"v":17.1},{"s":2,"h":52.7,"v":19.2},{"s":2,"h":52.86,"v":19.2},{"s":2,"h":53.02,"v":17.9},{"s":2,"h":53.18,"v":17.2},{"s":2,"h":53.34,"v":16.9},{"s":2,"h":53.49,"v":14.2},{"s":2,"h":53.68,"v":11.4},{"s":2,"h":53.86,"v":16.9},{"s":2,"h":54.05,"v":11.4},{"s":2,"h":54.24,"v":14.7},{"s":2,"h":54.36,"v":14.8},{"s":2,"h":54.52,"v":14.7},{"s":2,"h":54.68,"v":20.0},{"s":2,"h":54.8,"v":20.6},{"s":2,"h":54.96,"v":22.7},{"s":2,"h":55.15,"v":22.7},{"s":2,"h":55.31,"v":26.1},{"s":2,"h":55.47,"v":30.2},{"s":2,"h":55.67,"v":35.3},{"s":2,"h":55.86,"v":37.1},{"s":2,"h":56.02,"v":39.6},{"s":2,"h":56.18,"v":40.3},{"s":2,"h":56.34,"v":41.9},{"s":2,"h":56.53,"v":44.2},{"s":2,"h":56.7,"v":42.9},{"s":2,"h":56.86,"v":45.1},{"s":2,"h":57.01,"v":50.2},{"s":2,"h":57.17,"v":52.4},{"s":2,"h":57.36,"v":53.4},{"s":2,"h":57.52,"v":59.3},{"s":2,"h":57.71,"v":58.8},{"s":2,"h":57.87,"v":57.5},{"s":2,"h":58.03,"v":51.7},{"s":2,"h":58.18,"v":49.5},{"s":2,"h":58.36,"v":48.4},{"s":2,"h":58.55,"v":50.4},{"s":2,"h":58.7,"v":48.1},{"s":2,"h":58.86,"v":46.7},{"s":2,"h":59.05,"v":41.2},{"s":2,"h":59.26,"v":41.0},{"s":2,"h":59.45,"v":41.9},{"s":2,"h":59.65,"v":43.8},{"s":2,"h":59.84,"v":45.1},{"s":2,"h":60.02,"v":42.6},{"s":2,"h":60.2,"v":41.7},{"s":2,"h":60.36,"v":43.7},{"s":2,"h":60.52,"v":45.1},{"s":2,"h":60.71,"v":48.5},{"s":2,"h":60.87,"v":49.7},{"s":2,"h":61.03,"v":49.9},{"s":2,"h":61.18,"v":48.8},{"s":2,"h":61.36,"v":47.6},{"s":2,"h":61.55,"v":36.6},{"s":2,"h":61.75,"v":36.9},{"s":2,"h":61.89,"v":36.4},{"s":2,"h":62.05,"v":34.3},{"s":2,"h":62.23,"v":33.7},{"s":2,"h":62.49,"v":33.2},{"s":2,"h":62.7,"v":26.6},{"s":2,"h":62.86,"v":27.0},{"s":2,"h":63.01,"v":27.9},{"s":2,"h":63.2,"v":27.7},{"s":2,"h":63.39,"v":29.0},{"s":2,"h":63.55,"v":28.7},{"s":2,"h":63.73,"v":27.5},{"s":2,"h":63.88,"v":27.9},{"s":2,"h":64.07,"v":29.1},{"s":2,"h":64.23,"v":29.3},{"s":2,"h":64.39,"v":28.8},{"s":2,"h":64.55,"v":29.1},{"s":2,"h":64.74,"v":27.9},{"s":2,"h":64.94,"v":27.9},{"s":2,"h":65.1,"v":27.9},{"s":2,"h":65.23,"v":27.5},{"s":2,"h":65.38,"v":28.1},{"s":2,"h":65.57,"v":27.2},{"s":2,"h":65.76,"v":26.1},{"s":2,"h":65.94,"v":25.9},{"s":2,"h":66.13,"v":27.0},{"s":2,"h":66.33,"v":29.1},{"s":2,"h":66.52,"v":29.1},{"s":2,"h":66.68,"v":31.3},{"s":2,"h":66.84,"v":31.9},{"s":2,"h":67.03,"v":19.4},{"s":2,"h":67.18,"v":21.3},{"s":2,"h":67.39,"v":22.4},{"s":2,"h":67.55,"v":23.6},{"s":2,"h":67.71,"v":24.0},{"s":2,"h":67.91,"v":25.6},{"s":2,"h":68.1,"v":26.4},{"s":2,"h":68.31,"v":27.0},{"s":2,"h":68.5,"v":27.7},{"s":2,"h":68.7,"v":27.9},{"s":2,"h":68.89,"v":27.9},{"s":2,"h":69.05,"v":29.3},{"s":2,"h":69.2,"v":29.3},{"s":2,"h":69.36,"v":30.2},{"s":2,"h":69.55,"v":31.0},{"s":2,"h":69.8,"v":30.7},{"s":2,"h":69.99,"v":35.7},{"s":2,"h":70.18,"v":46.0},{"s":2,"h":70.39,"v":45.6},{"s":2,"h":70.66,"v":44.0},{"s":2,"h":70.86,"v":39.8},{"s":2,"h":71.02,"v":38.9},{"s":2,"h":71.18,"v":35.7},{"s":2,"h":71.34,"v":32.5},{"s":2,"h":71.54,"v":33.4},{"s":2,"h":71.7,"v":34.3},{"s":2,"h":71.86,"v":32.7},{"s":2,"h":72.0,"v":33.7}]
},
"encoding": {"x": {"field": "h", "type": "quantitative", "scale": {"domain": [0, 72], "nice": false, "zero": false},
  "axis": {"values": [0, 12, 24, 36, 48, 60, 72], "tickSize": 23, "tickColor": "black", "domainColor": "black", "labelColor": "black", "labelPadding": 20, "labelLineHeight": 60, "offset": 4, "labelLimit": 0,
    "labelExpr": "datum.value % 24 === 0 ? ['00:00', '6/' + (10 + datum.value / 24) + '/2013'] : '12:00'",
    "title": "local time", "titleColor": "black", "titleY": 165, "titleBaseline": "alphabetic"}}},
"layer": [
  {"data": {"name": "bands"}, "mark": {"type": "rect", "color": "#FFFF80"}, "encoding": {"x2": {"field": "h2"}}},
  {"data": {"name": "strip"}, "mark": {"type": "rect", "color": "#FFFF80"}, "encoding": {"x2": {"field": "h2"}, "y": {"datum": 0, "type": "quantitative", "scale": {"domain": [0, 60], "range": [996, 777], "nice": false, "zero": false}, "axis": null}, "y2": {"datum": 0.75}}},
  {"data": {"name": "blh"}, "mark": {"type": "line", "color": "#009900", "strokeWidth": 2},
   "encoding": {"y": {"field": "v", "type": "quantitative", "scale": {"domain": [0, 2198], "range": [248, 0], "nice": false, "zero": false},
     "axis": {"orient": "left", "values": [0, 500, 1000, 1500, 2000], "format": "d", "labelExpr": "datum.value % 1000 === 0 ? datum.label : ''", "tickSize": 24, "labelPadding": 12,
       "encode": {"ticks": {"update": {"x2": {"signal": "datum.value % 1000 === 0 ? -24 : -12"}}}},
       "title": "BLH (mag)", "titleX": -166, "titleAngle": 270, "titleAlign": "center", "titleBaseline": "alphabetic",
       "domainColor": "#009900", "tickColor": "#009900", "labelColor": "#009900", "titleColor": "#009900"}}}},
  {"data": {"name": "o3"}, "mark": {"type": "line", "color": "#FF0000", "strokeWidth": 2},
   "encoding": {"detail": {"field": "s"}, "y": {"field": "v", "type": "quantitative", "scale": {"domain": [10, 44.7], "range": [497.3, 269.7], "nice": false, "zero": false},
     "axis": {"orient": "left", "values": [10, 20, 30, 40], "format": "d", "labelExpr": "datum.value % 20 === 0 ? datum.label : ''", "tickSize": 24, "labelPadding": 12,
       "encode": {"ticks": {"update": {"x2": {"signal": "datum.value % 20 === 0 ? -24 : -12"}}}},
       "title": "O3 (ppb)", "titleX": -166, "titleAngle": 270, "titleAlign": "center", "titleBaseline": "alphabetic",
       "domainColor": "#FF0000", "tickColor": "#FF0000", "labelColor": "#FF0000", "titleColor": "#FF0000"}}}},
  {"data": {"name": "pan"}, "mark": {"type": "line", "color": "#000000", "strokeWidth": 2},
   "encoding": {"y": {"field": "v", "type": "quantitative", "scale": {"domain": [0, 250], "range": [727.3, 518], "nice": false, "zero": false},
     "axis": {"orient": "left", "values": [0, 50, 100, 150, 200, 250], "format": "d", "labelExpr": "datum.value % 100 === 0 ? datum.label : ''", "tickSize": 24, "labelPadding": 12,
       "encode": {"ticks": {"update": {"x2": {"signal": "datum.value % 100 === 0 ? -24 : -12"}}}},
       "title": "PAN (ppt)", "titleX": -166, "titleAngle": 270, "titleAlign": "center", "titleBaseline": "alphabetic",
       "domainColor": "#000000", "tickColor": "#000000", "labelColor": "#000000", "titleColor": "#000000"}}}},
  {"data": {"name": "in"}, "mark": {"type": "line", "color": "#0000FF", "strokeWidth": 2},
   "encoding": {"detail": {"field": "s"}, "y": {"field": "v", "type": "quantitative", "scale": {"domain": [0, 60], "range": [996, 777], "nice": false, "zero": false},
     "axis": {"orient": "left", "values": [0, 10, 20, 30, 40, 50, 60], "format": "d", "labelExpr": "datum.value % 20 === 0 ? datum.label : ''", "tickSize": 24, "labelPadding": 12,
       "encode": {"ticks": {"update": {"x2": {"signal": "datum.value % 20 === 0 ? -24 : -12"}}}},
       "title": "IN (ppt)", "titleX": -166, "titleAngle": 270, "titleAlign": "center", "titleBaseline": "alphabetic",
       "domainColor": "#0000FF", "tickColor": "#0000FF", "labelColor": "#0000FF", "titleColor": "#0000FF"}}}}
],
"resolve": {"scale": {"y": "independent"}}
}
